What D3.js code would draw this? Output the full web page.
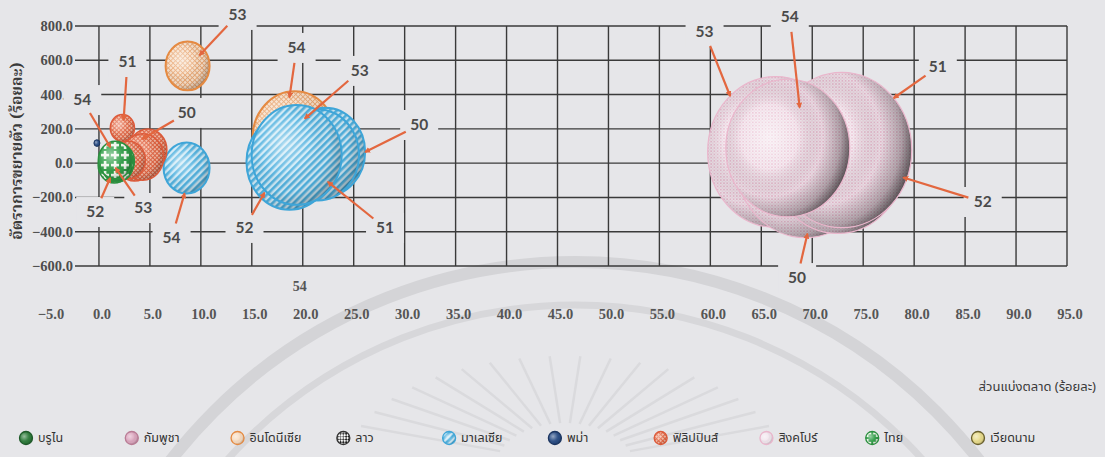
<!DOCTYPE html>
<html>
<head>
<meta charset="utf-8">
<script src="https://cdn.jsdelivr.net/npm/d3@7/dist/d3.min.js"></script>
<style>
  html, body { margin: 0; padding: 0; background: #e6e6e9; }
  svg { display: block; }
</style>
</head>
<body>
<svg id="chart" width="1105" height="457"></svg>
<script>
// ---------------------------------------------------------------
// Market share (%) vs. growth rate (%) of ASEAN members, years 2550-2554
// bubble size = relative export value
// ---------------------------------------------------------------
const countries = ["บรูไน", "กัมพูชา", "อินโดนีเซีย", "ลาว", "มาเลเซีย",
                   "พม่า", "ฟิลิปปินส์", "สิงคโปร์", "ไทย", "เวียดนาม"];

const xTicks = [-5, 0, 5, 10, 15, 20, 25, 30, 35, 40, 45, 50, 55, 60, 65, 70, 75, 80, 85, 90, 95];
const yTicks = [-600, -400, -200, 0, 200, 400, 600, 800];

// each point: year label, market share, growth, size
const brunei      = [{ year: "54", share: 1.6, growth: 6, size: 0.4 }];
const cambodia    = [{ year: "54", share: 1.7, growth: 2, size: 0.4 }];
const laos        = [{ year: "54", share: 1.5, growth: 8, size: 0.3 }];
const vietnam     = [{ year: "54", share: 1.8, growth: 0, size: 0.5 }];
const myanmar     = [{ year: "54", share: -0.2, growth: 117, size: 0.16 }];
const indonesia   = [
  { year: "50", share: 4.5, growth: 48, size: 3.5 },
  { year: "51", share: 5.0, growth: 77, size: 3.0 },
  { year: "52", share: 4.0, growth: 30, size: 2.6 },
  { year: "53", share: 8.7, growth: 567, size: 8.6 },
  { year: "54", share: 19.2, growth: 147, size: 31.4 }
];
const malaysia    = [
  { year: "50", share: 22.2, growth: 65, size: 28.4 },
  { year: "51", share: 21.5, growth: 48, size: 29.9 },
  { year: "52", share: 18.7, growth: 7, size: 32.9 },
  { year: "53", share: 19.4, growth: 48, size: 36.0 },
  { year: "54", share: 8.6, growth: -28, size: 9.4 }
];
const philippines = [
  { year: "50", share: 4.8, growth: 77, size: 6.4 },
  { year: "51", share: 2.3, growth: 205, size: 2.6 },
  { year: "52", share: 3.5, growth: 18, size: 6.4 },
  { year: "53", share: 4.3, growth: 36, size: 7.8 },
  { year: "54", share: 2.9, growth: 18, size: 5.1 }
];
const thailand    = [
  { year: "50", share: 1.9, growth: 12, size: 4.6 },
  { year: "51", share: 1.7, growth: 1, size: 5.1 },
  { year: "52", share: 1.5, growth: -11, size: 4.6 },
  { year: "53", share: 1.8, growth: -5, size: 4.6 },
  { year: "54", share: 1.6, growth: 18, size: 5.1 }
];
// listed back to front
const singapore   = [
  { year: "53", share: 66.4, growth: 65, size: 82.0 },
  { year: "50", share: 69.3, growth: 18, size: 87.0 },
  { year: "52", share: 72.5, growth: 30, size: 82.0 },
  { year: "51", share: 72.9, growth: 77, size: 87.0 },
  { year: "54", share: 67.6, growth: 88, size: 68.3 }
];

const seriesData = {
  "บรูไน": brunei, "กัมพูชา": cambodia, "อินโดนีเซีย": indonesia, "ลาว": laos,
  "มาเลเซีย": malaysia, "พม่า": myanmar, "ฟิลิปปินส์": philippines,
  "สิงคโปร์": singapore, "ไทย": thailand, "เวียดนาม": vietnam
};
const drawOrder = ["บรูไน", "กัมพูชา", "ลาว", "เวียดนาม", "พม่า",
                   "อินโดนีเซีย", "มาเลเซีย", "ฟิลิปปินส์", "ไทย", "สิงคโปร์"];

// year call-outs: label offset from bubble centre, arrow end angle / depth
const callouts = [
  { c: "สิงคโปร์", year: "53", dx: -71, dy: -120, ang: -132, k: 1 },
  { c: "สิงคโปร์", year: "54", dx: 2, dy: -131, ang: -72, k: 0.62 },
  { c: "สิงคโปร์", year: "51", dx: 96, dy: -83, ang: -42, k: 1 },
  { c: "สิงคโปร์", year: "52", dx: 145, dy: 44, ang: 15, k: 1 },
  { c: "สิงคโปร์", year: "50", dx: -8, dy: 118, ang: 88, k: 0.95 },
  { c: "มาเลเซีย", year: "50", dx: 94, dy: -27, ang: 0, k: 1 },
  { c: "มาเลเซีย", year: "51", dx: 67, dy: 73, ang: 68, k: 0.64 },
  { c: "มาเลเซีย", year: "52", dx: -45, dy: 66, ang: 132, k: 0.87 },
  { c: "มาเลเซีย", year: "53", dx: 63, dy: -84, ang: -76, k: 0.75 },
  { c: "มาเลเซีย", year: "54", dx: -15, dy: 70, ang: 95, k: 1 },
  { c: "อินโดนีเซีย", year: "53", dx: 50, dy: -51, ang: -39, k: 0.7 },
  { c: "อินโดนีเซีย", year: "54", dx: 2, dy: -90, ang: -98, k: 0.88 },
  { c: "ฟิลิปปินส์", year: "51", dx: 5, dy: -66, ang: -80, k: 0.6 },
  { c: "ฟิลิปปินส์", year: "50", dx: 39, dy: -37, ang: -120, k: 0.6 },
  { c: "ไทย", year: "54", dx: -33, dy: -60, ang: -113, k: 0.74 },
  { c: "ไทย", year: "52", dx: -19, dy: 47, ang: 109, k: 0.77 },
  { c: "ไทย", year: "53", dx: 26, dy: 44, ang: 117, k: 0.25 }
];
// loose year label below the plot
const looseLabels = [{ text: "54", share: 19.7, growth: -720 }];

// ---------------------------------------------------------------
const BG = "#e6e6e9";
const ASPECT = 1.11;

const x = d3.scaleLinear().domain([-5, 95]).range([48, 1067]);
const y = d3.scaleLinear().domain([-600, 800]).range([266, 26]);
const r = d3.scaleSqrt().domain([0, 100]).range([0, 75]);
const legendX = d3.scalePoint().domain(countries).range([26, 978]);

const svg = d3.select("#chart");
const defs = svg.append("defs");

// ----- fills -----
function pattern(id, w, h, rot, bg, draw) {
  const p = defs.append("pattern").attr("id", id)
    .attr("patternUnits", "userSpaceOnUse").attr("width", w).attr("height", h);
  if (rot) p.attr("patternTransform", `rotate(${rot})`);
  p.append("rect").attr("width", w).attr("height", h).attr("fill", bg);
  draw(p);
}
pattern("p-sg", 3.2, 3.2, 0, "#f1e6ed", p => {
  p.append("circle").attr("cx", 0.8).attr("cy", 0.8).attr("r", 0.75).attr("fill", "#e6a7c1");
  p.append("circle").attr("cx", 2.4).attr("cy", 2.4).attr("r", 0.6).attr("fill", "#ecbfd2");
});
pattern("p-my", 5, 5, 45, "#cde9f6", p => {
  p.append("rect").attr("width", 2.6).attr("height", 5).attr("fill", "#4fb1df");
});
pattern("p-id", 3.4, 3.4, 45, "#f7e0ca", p => {
  p.append("rect").attr("width", 0.9).attr("height", 3.4).attr("fill", "#e8a672");
  p.append("rect").attr("width", 3.4).attr("height", 0.9).attr("fill", "#e8a672");
});
pattern("p-ph", 3, 3, 45, "#f3b8a2", p => {
  p.append("rect").attr("width", 1).attr("height", 3).attr("fill", "#e0603e");
  p.append("rect").attr("width", 3).attr("height", 1).attr("fill", "#e0603e");
});
pattern("p-th", 10, 10, 0, "#33a04a", p => {
  p.append("rect").attr("x", 3.8).attr("y", 1).attr("width", 2.6).attr("height", 8).attr("fill", "#f2f8ee");
  p.append("rect").attr("x", 1).attr("y", 3.8).attr("width", 8).attr("height", 2.6).attr("fill", "#f2f8ee");
});
pattern("p-la", 4, 4, 45, "#ffffff", p => {
  p.append("rect").attr("width", 2).attr("height", 2).attr("fill", "#222");
  p.append("rect").attr("x", 2).attr("y", 2).attr("width", 2).attr("height", 2).attr("fill", "#222");
});

// ----- sphere shading: light from the upper left, shadow on the right -----
function radial(id, cx, cy, rr, stops) {
  const g = defs.append("radialGradient").attr("id", id)
    .attr("cx", cx).attr("cy", cy).attr("r", rr);
  stops.forEach(s => g.append("stop").attr("offset", s[0])
    .attr("stop-color", s[1]).attr("stop-opacity", s[2]));
}
radial("shade", 0.36, 0.38, 0.72, [[0, "#fff", 0.5], [0.4, "#fff", 0.12], [0.68, "#000", 0.03], [0.85, "#000", 0.18], [1, "#000", 0.4]]);
radial("shade-sg", 0.35, 0.42, 0.72, [[0, "#fff", 0.6], [0.32, "#fff", 0.22], [0.6, "#000", 0.04], [0.8, "#000", 0.28], [0.93, "#000", 0.62], [1, "#000", 0.7]]);

const styles = {
  "บรูไน":      { fill: "#2f7d3c", stroke: "#1f5a2a", sw: 1 },
  "กัมพูชา":    { fill: "#dca7bf", stroke: "#b97c95", sw: 1 },
  "อินโดนีเซีย": { fill: "url(#p-id)", stroke: "#e58a42", sw: 2, icon: "#f7dcc2" },
  "ลาว":        { fill: "url(#p-la)", stroke: "#333", sw: 1 },
  "มาเลเซีย":   { fill: "url(#p-my)", stroke: "#3ea5d8", sw: 2 },
  "พม่า":       { fill: "#2b4e86", stroke: "#1c3560", sw: 1 },
  "ฟิลิปปินส์":  { fill: "url(#p-ph)", stroke: "#dd5a3a", sw: 1.5 },
  "สิงคโปร์":   { fill: "url(#p-sg)", stroke: "#eab6cc", sw: 1.2, shade: "shade-sg", icon: "#f2e6ee" },
  "ไทย":        { fill: "url(#p-th)", stroke: "#2b8f3e", sw: 1.5 },
  "เวียดนาม":   { fill: "#e9dc8c", stroke: "#6a602e", sw: 1 }
};

// ----- faint seal in the paper -----
const wm = svg.append("g").attr("fill", "none");
const arc = (R, a0, a1) => d3.arc()({ innerRadius: R, outerRadius: R, startAngle: a0, endAngle: a1 });
wm.append("path").attr("transform", "translate(575,773)").attr("d", arc(511, -Math.PI / 2, Math.PI / 2))
  .attr("stroke", "#d4d4d7").attr("stroke-width", 12);
wm.append("path").attr("transform", "translate(575,773)").attr("d", arc(468, -Math.PI / 2, Math.PI / 2))
  .attr("stroke", "#d7d7da").attr("stroke-width", 7);
const rays = d3.range(-158, -21, 8);
wm.selectAll("line.ray").data(rays).join("line")
  .attr("x1", a => 565 + 70 * Math.cos(a * Math.PI / 180))
  .attr("y1", a => 468 + 45 * Math.sin(a * Math.PI / 180))
  .attr("x2", a => 565 + 220 * Math.cos(a * Math.PI / 180))
  .attr("y2", a => 468 + 112 * Math.sin(a * Math.PI / 180))
  .attr("stroke", "#dadadd").attr("stroke-width", 2.5);

// ----- grid -----
const grid = svg.append("g").attr("stroke", "#3a3a3a").attr("stroke-width", 1.4);
grid.selectAll("line.v").data(xTicks.filter(t => t >= 0)).join("line")
  .attr("x1", d => x(d)).attr("x2", d => x(d))
  .attr("y1", y(800)).attr("y2", y(-600));
grid.selectAll("line.h").data(yTicks).join("line")
  .attr("x1", 75).attr("x2", x(95))
  .attr("y1", d => y(d)).attr("y2", d => y(d));

// ----- tick labels -----
const fmt = d3.format(".1f");
const tickFont = "'Liberation Serif', 'DejaVu Serif', serif";
svg.append("g").selectAll("text").data(yTicks).join("text")
  .attr("x", 73).attr("y", d => y(d) + 5).attr("text-anchor", "end")
  .attr("font-family", tickFont).attr("font-weight", "bold").attr("font-size", 14.5)
  .attr("fill", "#4d4d4d").text(d => fmt(d));
svg.append("g").selectAll("text").data(xTicks).join("text")
  .attr("x", d => x(d) + 3).attr("y", 319).attr("text-anchor", "middle")
  .attr("font-family", tickFont).attr("font-weight", "bold").attr("font-size", 14.5)
  .attr("fill", "#555").text(d => fmt(d));

// ----- call-out geometry -----
function pointOf(c, yr) { return seriesData[c].find(p => p.year === yr); }
const GAP = 15;
const co = callouts.map(c => {
  const p = pointOf(c.c, c.year);
  const cx = x(p.share), cy = y(p.growth);
  const rx = r(p.size), ry = rx * ASPECT;
  const lx = cx + c.dx, ly = cy + c.dy;
  const a = c.ang * Math.PI / 180;
  const tx = cx + Math.cos(a) * rx * c.k, ty = cy + Math.sin(a) * ry * c.k;
  const dist = Math.hypot(tx - lx, ty - ly);
  return { text: c.year, lx, ly, tx, ty,
           sx: lx + (tx - lx) / dist * GAP, sy: ly + (ty - ly) / dist * GAP };
});

// label backgrounds hide the grid behind them
svg.append("g").selectAll("rect").data(co).join("rect")
  .attr("x", d => d.lx - 19).attr("y", d => d.ly - 15)
  .attr("width", 38).attr("height", 30).attr("fill", BG);

// ----- bubbles -----
const bubbles = svg.append("g");
drawOrder.forEach(name => {
  const st = styles[name];
  const g = bubbles.append("g");
  const e = g.selectAll("g").data(seriesData[name]).join("g");
  e.append("ellipse")
    .attr("cx", d => x(d.share)).attr("cy", d => y(d.growth))
    .attr("rx", d => r(d.size)).attr("ry", d => r(d.size) * ASPECT)
    .attr("fill", st.fill);
  e.append("ellipse")
    .attr("cx", d => x(d.share)).attr("cy", d => y(d.growth))
    .attr("rx", d => r(d.size)).attr("ry", d => r(d.size) * ASPECT)
    .attr("fill", `url(#${st.shade || "shade"})`)
    .attr("stroke", st.stroke).attr("stroke-width", st.sw);
});

// ----- arrows -----
defs.append("marker").attr("id", "ah").attr("viewBox", "0 0 10 10")
  .attr("refX", 8).attr("refY", 5).attr("markerWidth", 6).attr("markerHeight", 6)
  .attr("orient", "auto").attr("markerUnits", "userSpaceOnUse")
  .append("path").attr("d", "M0,0L10,5L0,10z").attr("fill", "#e3673f");
svg.append("g").selectAll("line").data(co).join("line")
  .attr("x1", d => d.sx).attr("y1", d => d.sy)
  .attr("x2", d => d.tx).attr("y2", d => d.ty)
  .attr("stroke", "#e3673f").attr("stroke-width", 2.2)
  .attr("marker-end", "url(#ah)");

// ----- year labels -----
const labFont = "Lato, 'Open Sans', sans-serif";
svg.append("g").selectAll("text").data(co).join("text")
  .attr("x", d => d.lx).attr("y", d => d.ly).attr("dy", "0.35em")
  .attr("text-anchor", "middle").attr("font-family", labFont)
  .attr("font-weight", "bold").attr("font-size", 15.5).attr("fill", "#4a4a4a")
  .text(d => d.text);
svg.append("g").selectAll("text").data(looseLabels).join("text")
  .attr("x", d => x(d.share)).attr("y", d => y(d.growth)).attr("dy", "0.35em")
  .attr("text-anchor", "middle").attr("font-family", tickFont)
  .attr("font-weight", "bold").attr("font-size", 14).attr("fill", "#555")
  .text(d => d.text);

// ----- axis titles -----
const thaiSans = "'Noto Sans Thai', 'Noto Sans', 'DejaVu Sans', sans-serif";
const thaiSerif = "'Noto Serif Thai', 'Noto Sans Thai', 'DejaVu Serif', serif";
svg.append("text")
  .attr("transform", "translate(17,151) rotate(-90)")
  .attr("text-anchor", "middle").attr("dy", "0.35em")
  .attr("font-family", thaiSerif).attr("font-weight", "bold").attr("font-size", 15.5)
  .attr("fill", "#3a3a3a").text("อัตราการขยายตัว (ร้อยละ)");
svg.append("text")
  .attr("x", 1096).attr("y", 391).attr("text-anchor", "end")
  .attr("font-family", thaiSans).attr("font-size", 13).attr("fill", "#3a3a3a")
  .text("ส่วนแบ่งตลาด (ร้อยละ)");

// ----- legend -----
const leg = svg.append("g").selectAll("g").data(countries).join("g")
  .attr("transform", d => `translate(${legendX(d)},438)`);
leg.append("circle").attr("r", 6.5)
  .attr("fill", d => styles[d].icon || styles[d].fill);
leg.append("circle").attr("r", 6.5)
  .attr("fill", "url(#shade)")
  .attr("stroke", d => styles[d].stroke).attr("stroke-width", 1.3);
leg.append("text").attr("x", 12).attr("dy", "0.35em")
  .attr("font-family", thaiSans).attr("font-size", 12.5).attr("fill", "#333")
  .text(d => d);
</script>
</body>
</html>
